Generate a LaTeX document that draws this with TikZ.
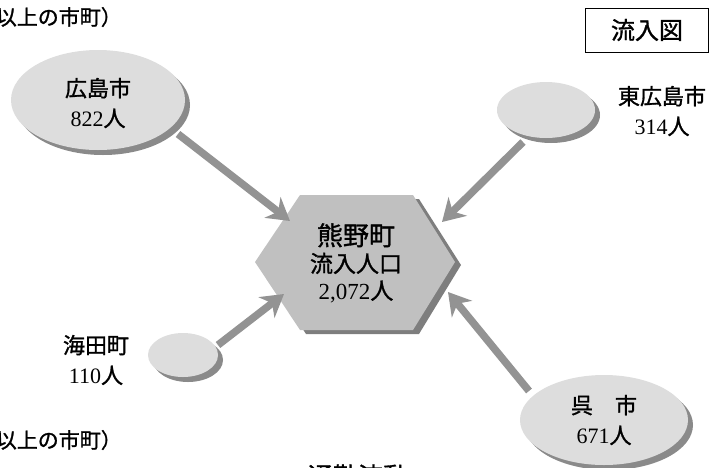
\documentclass[tikz,border=0pt]{standalone}
\usepackage{fontspec}
\setmainfont{Liberation Serif}
\newfontfamily\jp[FakeBold=1.2]{Noto Sans CJK JP}
\usetikzlibrary{arrows.meta,shapes.geometric,shadows}
\definecolor{bubfill}{HTML}{DDDDDD}
\definecolor{bubshadow}{HTML}{8A8A8A}
\definecolor{hexfill}{HTML}{C0C0C0}
\definecolor{hexshadow}{HTML}{7E7E7E}
\definecolor{arrgray}{HTML}{939393}
\begin{document}
\begin{tikzpicture}[x=1pt,y=-1pt,
  bub/.style={ellipse, fill=bubfill, inner sep=0pt, align=center,
    drop shadow={shadow xshift=5pt, shadow yshift=-5pt, opacity=1, fill=bubshadow}},
  arr/.style={draw=arrgray, line width=7.5pt,
    -{Stealth[length=22pt,width=26pt,inset=7pt]}},
  txt/.style={align=center, inner sep=0pt, font=\fontsize{22pt}{30pt}\selectfont},
  captext/.style={inner sep=0pt, font=\jp\fontsize{21pt}{24pt}\selectfont}]
\useasboundingbox (0,0) rectangle (710,467);
\clip (0,0) rectangle (710,467);

% captions (partly outside the picture)
\node[captext, anchor=east] (captop) at (122,17) {（100人以上の市町）};
\node[captext, anchor=east] (capbot) at (122,440) {（100人以上の市町）};
\node[inner sep=0pt, font=\jp\fontsize{25pt}{25pt}\selectfont] (title) at (358,476) {通勤流動};

% legend box
\node[draw, line width=1pt, minimum width=123pt, minimum height=44pt, inner sep=0pt,
  font=\jp\fontsize{24pt}{24pt}\selectfont] (leg) at (647,30) {流入図};

% hexagon
\fill[hexshadow] (306,199) -- (419,199) -- (461,265) -- (419,334) -- (306,334) -- (261,265) -- cycle;
\fill[hexfill] (300,195) -- (413,195) -- (455,262) -- (413,330) -- (300,330) -- (255,262) -- cycle;
\node[txt] (hex) at (356,263) {{\jp\fontsize{26pt}{26pt}\selectfont 熊野町}\\[-3pt]
  {\jp\fontsize{23pt}{23pt}\selectfont 流入人口}\\[-3pt]
  {\fontsize{23pt}{23pt}\selectfont 2,072{\jp 人}}};

% bubbles
\node[bub, minimum width=174pt, minimum height=100pt] (hir) at (98,100) {};
\node[txt] (hirt) at (98,103) {{\jp 広島市}\\ 822{\jp 人}};

\node[bub, minimum width=98pt, minimum height=56pt] (hhi) at (546,110) {};
\node[txt] (hhit) at (662,111) {{\jp 東広島市}\\ 314{\jp 人}};

\node[bub, minimum width=70pt, minimum height=44pt] (kai) at (183,355) {};
\node[txt] (kait) at (96,360) {{\jp 海田町}\\ 110{\jp 人}};

\node[bub, minimum width=168pt, minimum height=90pt] (kur) at (604,420) {};
\node[txt] (kurt) at (604,420) {{\jp 呉　市}\\ 671{\jp 人}};

% arrows
\coordinate (a1s) at (178,134);
\coordinate (a1e) at (290,221);
\coordinate (a2s) at (523,142);
\coordinate (a2e) at (442,222);
\coordinate (a3s) at (218,345);
\coordinate (a3e) at (284,294);
\coordinate (a4s) at (529,391);
\coordinate (a4e) at (448,292);
\draw[arr] (a1s) -- (a1e);
\draw[arr] (a2s) -- (a2e);
\draw[arr] (a3s) -- (a3e);
\draw[arr] (a4s) -- (a4e);
\end{tikzpicture}
\end{document}
